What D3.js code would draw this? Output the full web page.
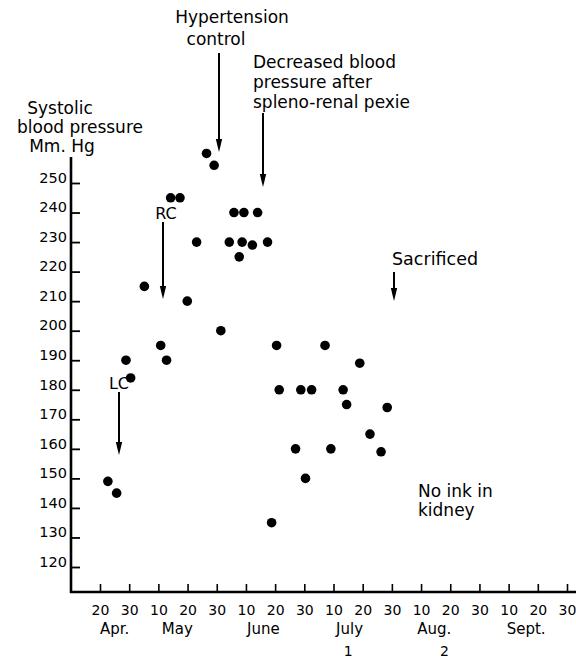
<!DOCTYPE html>
<html>
<head>
<meta charset="utf-8">
<script src="https://cdn.jsdelivr.net/npm/d3@7"></script>
<style>
  html, body { margin: 0; padding: 0; background: #fff; }
  svg { display: block; font-family: "DejaVu Sans", sans-serif; }
</style>
</head>
<body>
<div id="chart"></div>
<script>
// ---- data ----
// x in "chart days": Apr 20 = 20, Apr 30 = 30, May 10 = 40, ... (each month drawn as 30 days)
const xTickValues = [20, 30, 40, 50, 60, 70, 80, 90, 100, 110, 120, 130, 140, 150, 160, 170, 180];
const xTickLabels = ["20", "30", "10", "20", "30", "10", "20", "30", "10", "20", "30", "10", "20", "30", "10", "20", "30"];
const months = ["Apr.", "May", "June", "July", "Aug.", "Sept."];
const monthCenters = [25, 46.5, 76, 105.5, 134.5, 166];
const monthNumbers = ["1", "2"];
const monthNumberCenters = [105, 138];
const yTickValues = [120, 130, 140, 150, 160, 170, 180, 190, 200, 210, 220, 230, 240, 250];

const days = [22.7, 25.7, 28.9, 30.5, 35.2, 40.8, 42.8, 44.2, 47.4, 49.9,
              53.1, 56.5, 59.1, 61.4, 64.3, 65.9, 67.7, 68.7, 69.3, 72.2,
              74.0, 77.4, 78.8, 80.5, 81.4, 87.0, 88.8, 90.4, 92.5, 97.1,
              99.1, 103.3, 104.5, 109.0, 112.5, 116.3, 118.4];
const pressure = [149, 145, 190, 184, 215, 195, 190, 245, 245, 210,
                  230, 260, 256, 200, 230, 240, 225, 230, 240, 229,
                  240, 230, 135, 195, 180, 160, 180, 150, 180, 195,
                  160, 180, 175, 189, 165, 159, 174];

// ---- setup ----
const W = 576, H = 658;
const svg = d3.select("#chart").append("svg").attr("width", W).attr("height", H);

const x = d3.scaleLinear().domain([20, 180]).range([100, 567]);
const y = d3.scaleLinear().domain([120, 250]).range([567, 183]);

const axisX = 71, axisY = 592;

// x axis
const gx = svg.append("g").attr("transform", `translate(0,${axisY})`)
  .call(d3.axisBottom(x).tickValues(xTickValues)
        .tickFormat((d, i) => xTickLabels[i]).tickSizeInner(-8).tickSizeOuter(0).tickPadding(0));
gx.select(".domain").remove();
gx.selectAll(".tick line").attr("stroke", "#000").attr("stroke-width", 1.6);
gx.selectAll(".tick text").attr("y", 23).attr("dy", null)
  .attr("font-size", 14).attr("fill", "#000").attr("font-family", "DejaVu Sans");
svg.append("line").attr("x1", axisX - 1).attr("x2", W).attr("y1", axisY).attr("y2", axisY)
  .attr("stroke", "#000").attr("stroke-width", 2.6);

// y axis
const gy = svg.append("g").attr("transform", `translate(${axisX},0)`)
  .call(d3.axisLeft(y).tickValues(yTickValues).tickFormat(d3.format("d"))
        .tickSizeInner(-9).tickSizeOuter(0).tickPadding(4));
gy.select(".domain").remove();
gy.selectAll(".tick line").attr("stroke", "#000").attr("stroke-width", 1.8);
gy.selectAll(".tick text").attr("dy", "-0.05em").attr("x", -4)
  .attr("font-size", 14.5).attr("fill", "#000").attr("font-family", "DejaVu Sans");
svg.append("line").attr("x1", axisX).attr("x2", axisX).attr("y1", 157).attr("y2", axisY + 1)
  .attr("stroke", "#000").attr("stroke-width", 2.6);

// month labels
svg.append("g").selectAll("text").data(months).join("text")
  .attr("x", (d, i) => x(monthCenters[i])).attr("y", 634)
  .attr("text-anchor", "middle").attr("font-size", 15).text(d => d);
svg.append("g").selectAll("text").data(monthNumbers).join("text")
  .attr("x", (d, i) => x(monthNumberCenters[i])).attr("y", 656)
  .attr("text-anchor", "middle").attr("font-size", 14).text(d => d);

// y axis title
const yTitle = [["Systolic", 60, 114], ["blood pressure", 80, 133], ["Mm. Hg", 62, 152]];
svg.append("g").selectAll("text").data(yTitle).join("text")
  .attr("x", d => d[1]).attr("y", d => d[2]).attr("text-anchor", "middle")
  .attr("font-size", 17).text(d => d[0]);

// points
svg.append("g").selectAll("circle").data(days).join("circle")
  .attr("cx", (d, i) => x(d)).attr("cy", (d, i) => y(pressure[i]))
  .attr("r", 4.8).attr("fill", "#000");

// annotations
function arrow(xp, y1, y2) {
  svg.append("line").attr("x1", xp).attr("x2", xp).attr("y1", y1).attr("y2", y2 - 10)
    .attr("stroke", "#000").attr("stroke-width", 2);
  svg.append("path")
    .attr("d", `M${xp - 3.2},${y2 - 13} L${xp + 3.2},${y2 - 13} L${xp},${y2} Z`)
    .attr("fill", "#000");
}
function label(lines, xp, y0, anchor, size, lh) {
  lines.forEach((t, i) => {
    svg.append("text").attr("x", xp).attr("y", y0 + i * lh)
      .attr("text-anchor", anchor).attr("font-size", size).text(t);
  });
}

label(["Hypertension"], 232, 23, "middle", 17, 18);
label(["control"], 216, 45, "middle", 17, 18);
arrow(219, 53, 152);

label(["Decreased blood", "pressure after", "spleno-renal pexie"], 253, 68, "start", 17, 20);
arrow(263, 113, 187);

label(["RC"], 166, 219, "middle", 16, 18);
arrow(163, 222, 299);

label(["LC"], 119, 389, "middle", 16, 18);
arrow(119, 392, 455);

label(["Sacrificed"], 392, 265, "start", 17.5, 18);
arrow(394, 272, 301);

label(["No ink  in", "kidney"], 418, 497, "start", 17, 19);
</script>
</body>
</html>
